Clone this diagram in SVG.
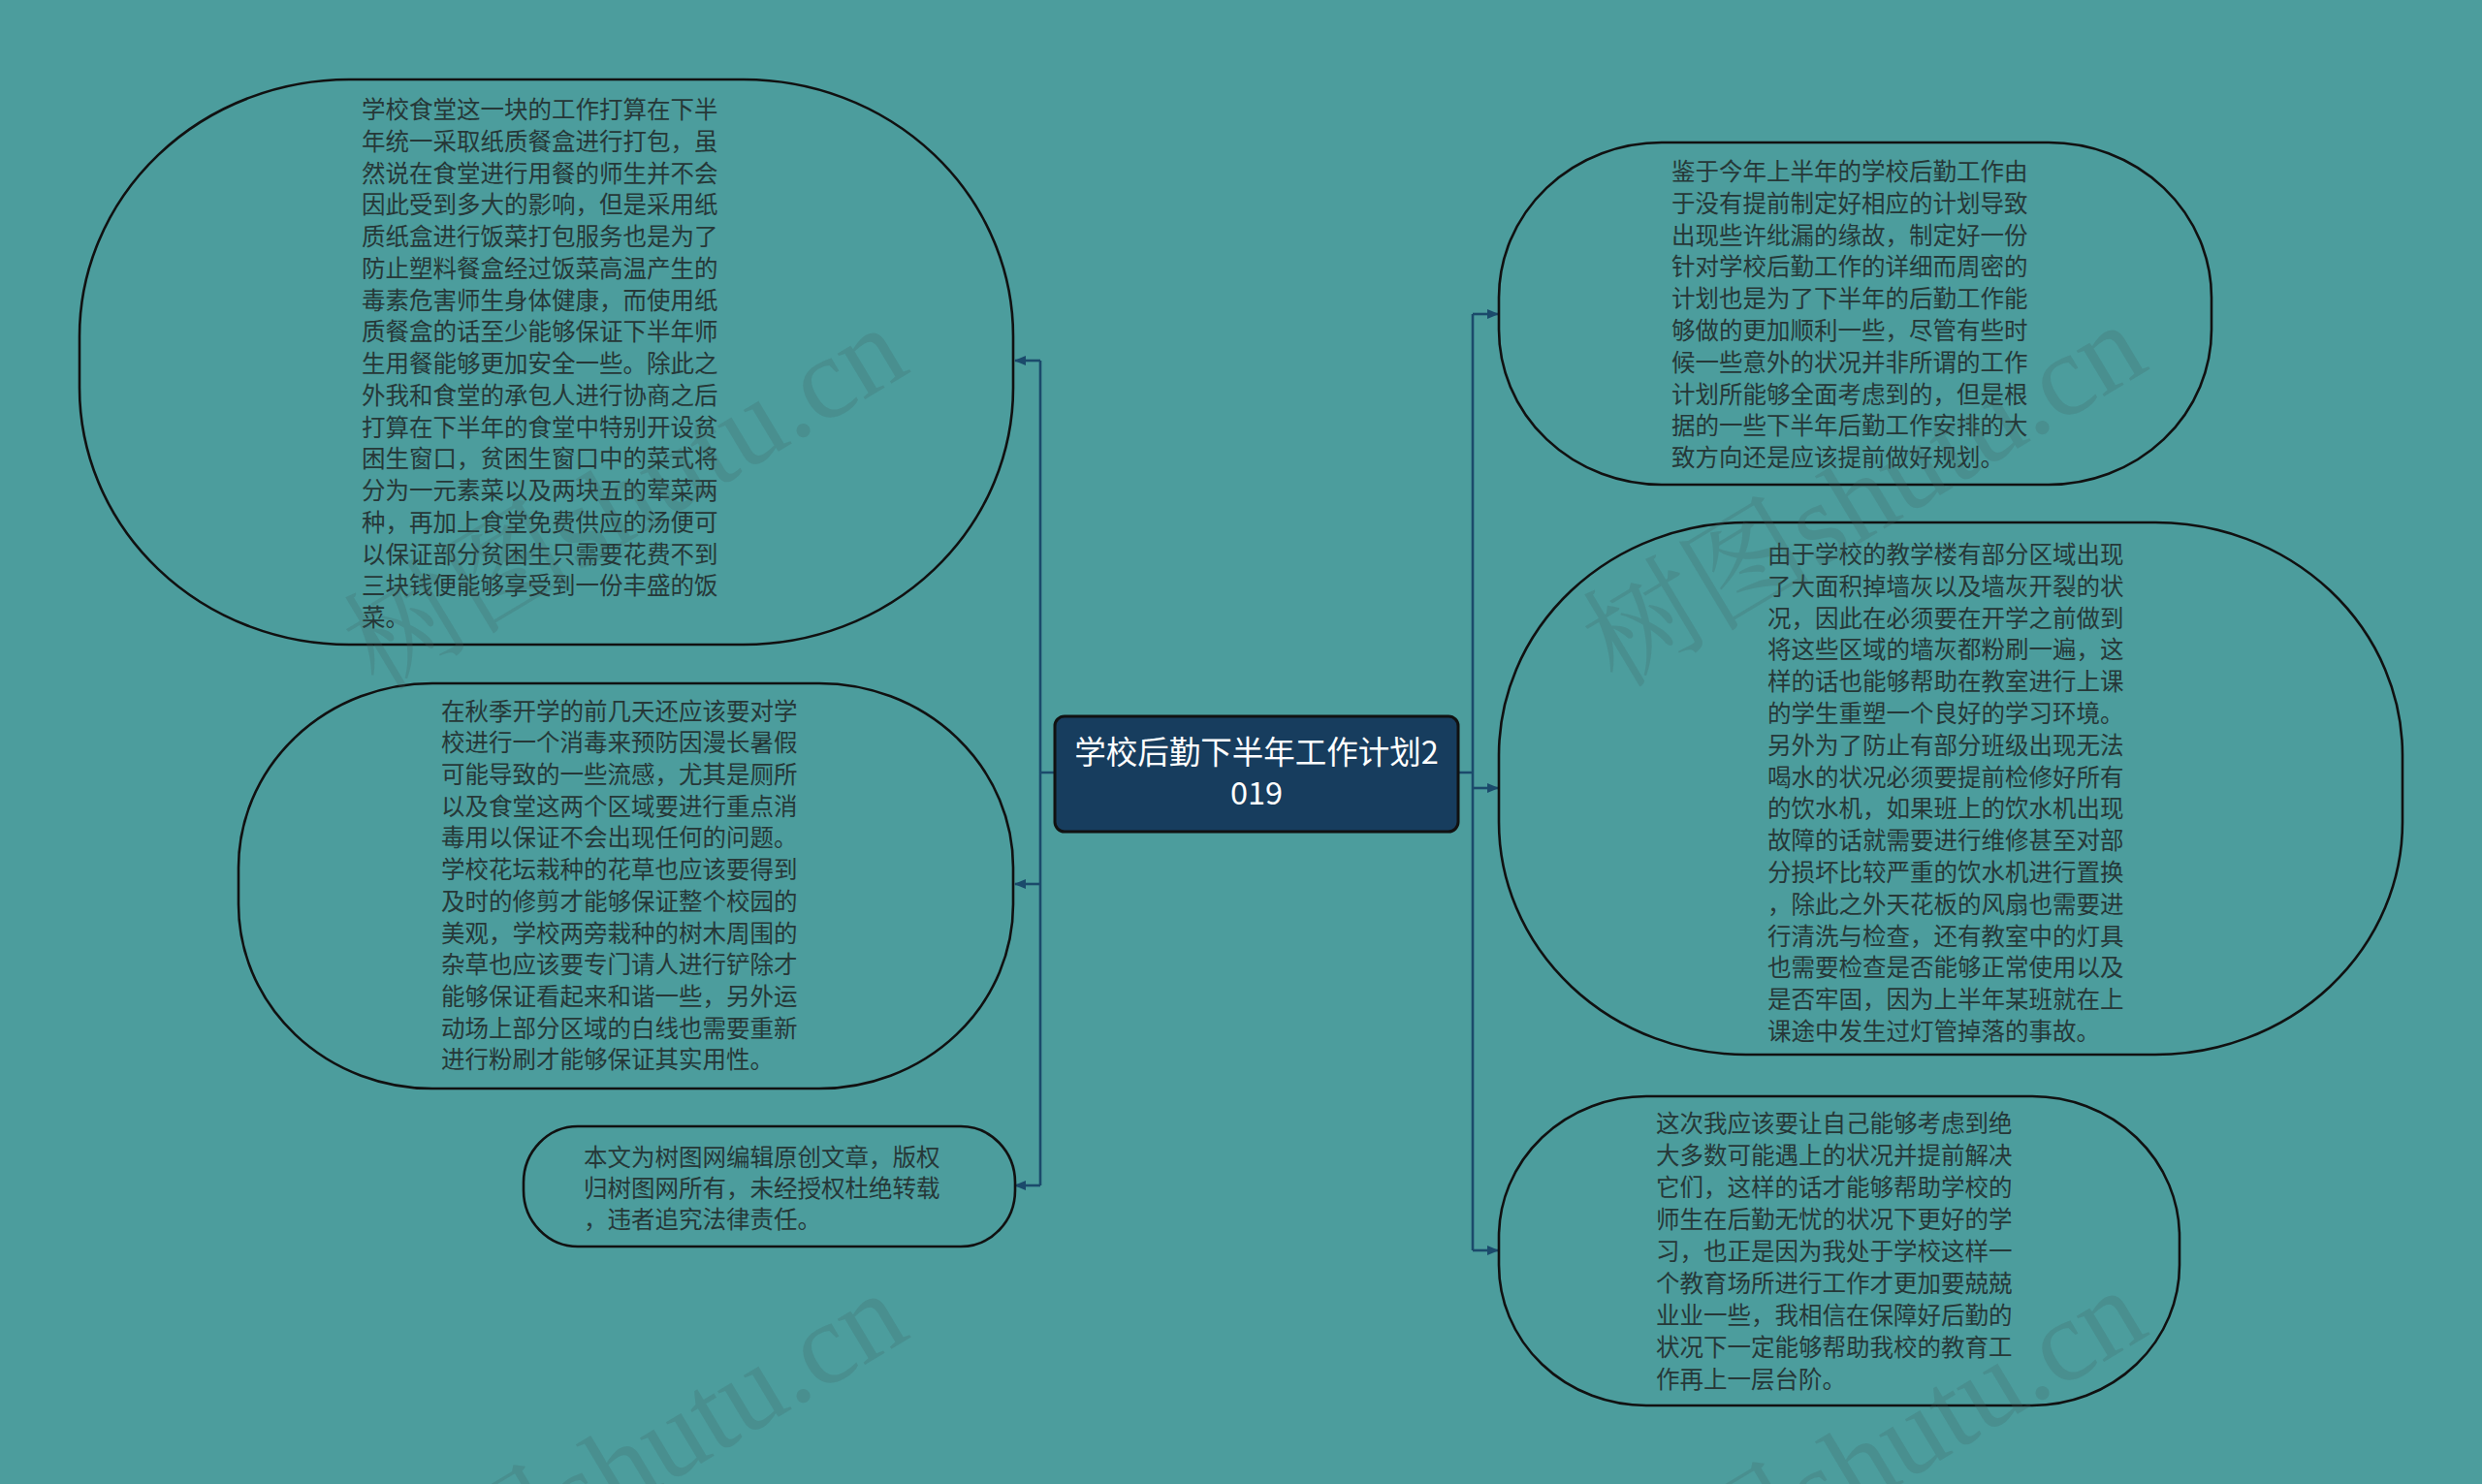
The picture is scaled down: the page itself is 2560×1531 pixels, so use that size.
<svg xmlns="http://www.w3.org/2000/svg" width="2560" height="1531" viewBox="0 0 2560 1531">
<style>
.bg{fill:#4c9d9d}
.node{fill:#4c9d9d;stroke:#111;stroke-width:2.6}
.t{font-family:"Noto Sans CJK SC","Noto Sans",sans-serif;font-size:24.5px;fill:#263838}
.title{font-family:"Noto Sans CJK SC","Noto Sans",sans-serif;font-size:32.5px;fill:#ffffff;text-anchor:middle}
.conn{fill:none;stroke:#1b4a6b;stroke-width:2.6}
.wm{font-family:"Liberation Serif","Noto Serif CJK SC","Noto Sans CJK SC",serif;font-size:120px;fill:#3e5f60;fill-opacity:0.22;text-anchor:middle}
</style>
<defs>
<marker id="arr" markerUnits="userSpaceOnUse" markerWidth="12" markerHeight="10" refX="11" refY="5" orient="auto">
<path d="M0,0 L12,5 L0,10 z" fill="#1b4a6b"/>
</marker>
</defs>
<rect class="bg" x="0" y="0" width="2560" height="1531"/>

<g id="connectors">
<path class="conn" d="M1088,797 H1073 M1073,372 V1223"/>
<path class="conn" d="M1073,372 H1047" marker-end="url(#arr)"/>
<path class="conn" d="M1073,912 H1047" marker-end="url(#arr)"/>
<path class="conn" d="M1073,1223 H1047" marker-end="url(#arr)"/>
<path class="conn" d="M1504,797 H1519 M1519,324 V1290"/>
<path class="conn" d="M1519,324 H1545" marker-end="url(#arr)"/>
<path class="conn" d="M1519,813 H1545" marker-end="url(#arr)"/>
<path class="conn" d="M1519,1290 H1545" marker-end="url(#arr)"/>
</g>

<g id="center">
<rect x="1088" y="739" width="416" height="119" rx="10" ry="10" fill="#173d5e" stroke="#111" stroke-width="3"/>
<text class="title" x="1296" y="788">学校后勤下半年工作计划2</text>
<text class="title" x="1296" y="830">019</text>
</g>

<g id="node-left-1">
<rect class="node" x="82" y="82" width="963" height="583" rx="278" ry="265"/>
<text class="t" x="373" y="122.3">
<tspan x="373" dy="0">学校食堂这一块的工作打算在下半</tspan>
<tspan x="373" dy="32.73">年统一采取纸质餐盒进行打包，虽</tspan>
<tspan x="373" dy="32.73">然说在食堂进行用餐的师生并不会</tspan>
<tspan x="373" dy="32.73">因此受到多大的影响，但是采用纸</tspan>
<tspan x="373" dy="32.73">质纸盒进行饭菜打包服务也是为了</tspan>
<tspan x="373" dy="32.73">防止塑料餐盒经过饭菜高温产生的</tspan>
<tspan x="373" dy="32.73">毒素危害师生身体健康，而使用纸</tspan>
<tspan x="373" dy="32.73">质餐盒的话至少能够保证下半年师</tspan>
<tspan x="373" dy="32.73">生用餐能够更加安全一些。除此之</tspan>
<tspan x="373" dy="32.73">外我和食堂的承包人进行协商之后</tspan>
<tspan x="373" dy="32.73">打算在下半年的食堂中特别开设贫</tspan>
<tspan x="373" dy="32.73">困生窗口，贫困生窗口中的菜式将</tspan>
<tspan x="373" dy="32.73">分为一元素菜以及两块五的荤菜两</tspan>
<tspan x="373" dy="32.73">种，再加上食堂免费供应的汤便可</tspan>
<tspan x="373" dy="32.73">以保证部分贫困生只需要花费不到</tspan>
<tspan x="373" dy="32.73">三块钱便能够享受到一份丰盛的饭</tspan>
<tspan x="373" dy="32.73">菜。</tspan>
</text>
</g>

<g id="node-left-2">
<rect class="node" x="246" y="705" width="799" height="418" rx="200" ry="190"/>
<text class="t" x="455" y="742.6">
<tspan x="455" dy="0">在秋季开学的前几天还应该要对学</tspan>
<tspan x="455" dy="32.7">校进行一个消毒来预防因漫长暑假</tspan>
<tspan x="455" dy="32.7">可能导致的一些流感，尤其是厕所</tspan>
<tspan x="455" dy="32.7">以及食堂这两个区域要进行重点消</tspan>
<tspan x="455" dy="32.7">毒用以保证不会出现任何的问题。</tspan>
<tspan x="455" dy="32.7">学校花坛栽种的花草也应该要得到</tspan>
<tspan x="455" dy="32.7">及时的修剪才能够保证整个校园的</tspan>
<tspan x="455" dy="32.7">美观，学校两旁栽种的树木周围的</tspan>
<tspan x="455" dy="32.7">杂草也应该要专门请人进行铲除才</tspan>
<tspan x="455" dy="32.7">能够保证看起来和谐一些，另外运</tspan>
<tspan x="455" dy="32.7">动场上部分区域的白线也需要重新</tspan>
<tspan x="455" dy="32.7">进行粉刷才能够保证其实用性。</tspan>
</text>
</g>

<g id="node-left-3">
<rect class="node" x="540" y="1162" width="507" height="124" rx="56" ry="58"/>
<text class="t" x="602" y="1202.5">
<tspan x="602" dy="0">本文为树图网编辑原创文章，版权</tspan>
<tspan x="602" dy="32">归树图网所有，未经授权杜绝转载</tspan>
<tspan x="602" dy="32">，违者追究法律责任。</tspan>
</text>
</g>

<g id="node-right-1">
<rect class="node" x="1546" y="147" width="735" height="353" rx="168" ry="160"/>
<text class="t" x="1724" y="186">
<tspan x="1724" dy="0">鉴于今年上半年的学校后勤工作由</tspan>
<tspan x="1724" dy="32.8">于没有提前制定好相应的计划导致</tspan>
<tspan x="1724" dy="32.8">出现些许纰漏的缘故，制定好一份</tspan>
<tspan x="1724" dy="32.8">针对学校后勤工作的详细而周密的</tspan>
<tspan x="1724" dy="32.8">计划也是为了下半年的后勤工作能</tspan>
<tspan x="1724" dy="32.8">够做的更加顺利一些，尽管有些时</tspan>
<tspan x="1724" dy="32.8">候一些意外的状况并非所谓的工作</tspan>
<tspan x="1724" dy="32.8">计划所能够全面考虑到的，但是根</tspan>
<tspan x="1724" dy="32.8">据的一些下半年后勤工作安排的大</tspan>
<tspan x="1724" dy="32.8">致方向还是应该提前做好规划。</tspan>
</text>
</g>

<g id="node-right-2">
<rect class="node" x="1546" y="539" width="932" height="549" rx="255" ry="240"/>
<text class="t" x="1823" y="581">
<tspan x="1823" dy="0">由于学校的教学楼有部分区域出现</tspan>
<tspan x="1823" dy="32.8">了大面积掉墙灰以及墙灰开裂的状</tspan>
<tspan x="1823" dy="32.8">况，因此在必须要在开学之前做到</tspan>
<tspan x="1823" dy="32.8">将这些区域的墙灰都粉刷一遍，这</tspan>
<tspan x="1823" dy="32.8">样的话也能够帮助在教室进行上课</tspan>
<tspan x="1823" dy="32.8">的学生重塑一个良好的学习环境。</tspan>
<tspan x="1823" dy="32.8">另外为了防止有部分班级出现无法</tspan>
<tspan x="1823" dy="32.8">喝水的状况必须要提前检修好所有</tspan>
<tspan x="1823" dy="32.8">的饮水机，如果班上的饮水机出现</tspan>
<tspan x="1823" dy="32.8">故障的话就需要进行维修甚至对部</tspan>
<tspan x="1823" dy="32.8">分损坏比较严重的饮水机进行置换</tspan>
<tspan x="1823" dy="32.8">，除此之外天花板的风扇也需要进</tspan>
<tspan x="1823" dy="32.8">行清洗与检查，还有教室中的灯具</tspan>
<tspan x="1823" dy="32.8">也需要检查是否能够正常使用以及</tspan>
<tspan x="1823" dy="32.8">是否牢固，因为上半年某班就在上</tspan>
<tspan x="1823" dy="32.8">课途中发生过灯管掉落的事故。</tspan>
</text>
</g>

<g id="node-right-3">
<rect class="node" x="1546" y="1131" width="702" height="319" rx="152" ry="145"/>
<text class="t" x="1708" y="1168">
<tspan x="1708" dy="0">这次我应该要让自己能够考虑到绝</tspan>
<tspan x="1708" dy="33">大多数可能遇上的状况并提前解决</tspan>
<tspan x="1708" dy="33">它们，这样的话才能够帮助学校的</tspan>
<tspan x="1708" dy="33">师生在后勤无忧的状况下更好的学</tspan>
<tspan x="1708" dy="33">习，也正是因为我处于学校这样一</tspan>
<tspan x="1708" dy="33">个教育场所进行工作才更加要兢兢</tspan>
<tspan x="1708" dy="33">业业一些，我相信在保障好后勤的</tspan>
<tspan x="1708" dy="33">状况下一定能够帮助我校的教育工</tspan>
<tspan x="1708" dy="33">作再上一层台阶。</tspan>
</text>
</g>

<g id="watermarks">
<text class="wm" transform="translate(645,514) rotate(-31)" x="0" y="40">树图shutu.cn</text>
<text class="wm" transform="translate(1923,511) rotate(-31)" x="0" y="40">树图shutu.cn</text>
<text class="wm" transform="translate(645,1510) rotate(-31)" x="0" y="40">树图shutu.cn</text>
<text class="wm" transform="translate(1923,1507) rotate(-31)" x="0" y="40">树图shutu.cn</text>
</g>
</svg>
